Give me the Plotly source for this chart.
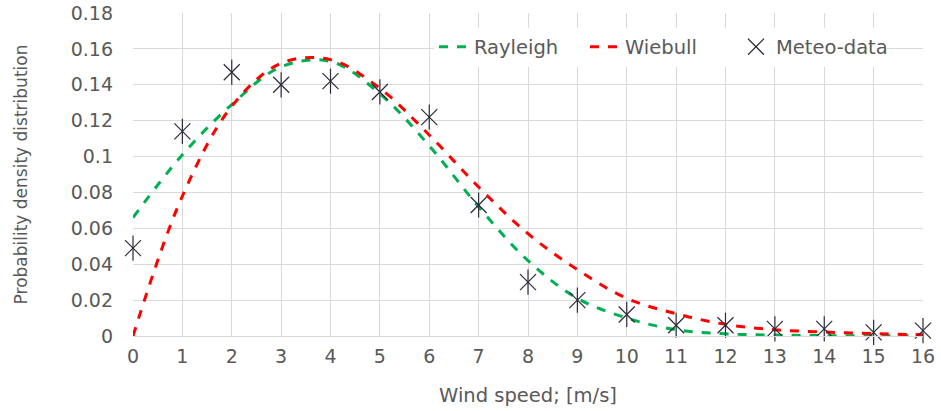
import plotly.graph_objects as go

wind_speed = list(range(17))
rayleigh = [0.066, 0.101, 0.129, 0.150, 0.153, 0.135, 0.106, 0.072, 0.042, 0.021, 0.010,
            0.0035, 0.0012, 0.0005, 0.0002, 0.0001, 0.0001]
wiebull = [0.0, 0.078, 0.128, 0.152, 0.154, 0.138, 0.112, 0.083, 0.057, 0.037, 0.021,
           0.0124, 0.0065, 0.0035, 0.0022, 0.0013, 0.0007]
meteo = [0.049, 0.114, 0.147, 0.140, 0.142, 0.136, 0.122, 0.073, 0.030, 0.020, 0.012,
         0.006, 0.006, 0.004, 0.004, 0.002, 0.003]

y_ticks = [0, 0.02, 0.04, 0.06, 0.08, 0.1, 0.12, 0.14, 0.16, 0.18]
y_tick_labels = ["0", "0.02", "0.04", "0.06", "0.08", "0.1", "0.12", "0.14", "0.16", "0.18"]

font_family = "DejaVu Sans, sans-serif"
text_color = "#595959"
marker_color = "#2b2b3b"

fig = go.Figure()
fig.add_trace(go.Scatter(x=wind_speed, y=rayleigh, mode="lines", name="Rayleigh",
                         line=dict(color="#00b050", width=3, dash="dash", shape="spline")))
fig.add_trace(go.Scatter(x=wind_speed, y=wiebull, mode="lines", name="Wiebull",
                         line=dict(color="#ff0000", width=3, dash="dash", shape="spline")))
fig.add_trace(go.Scatter(x=wind_speed, y=meteo, mode="markers", name="Meteo-data",
                         marker=dict(symbol="x-thin-open", size=16, color=marker_color,
                                     line=dict(color=marker_color, width=1.2)),
                         cliponaxis=False))
fig.add_trace(go.Scatter(x=wind_speed, y=meteo, mode="markers", name="Meteo-data",
                         showlegend=False,
                         marker=dict(symbol="line-ns-open", size=18, color=marker_color,
                                     line=dict(color=marker_color, width=1.2)),
                         cliponaxis=False))

fig.update_layout(
    width=941, height=411,
    margin=dict(l=133, r=18, t=13, b=75, autoexpand=False),
    paper_bgcolor="white", plot_bgcolor="white",
    font=dict(family=font_family, color=text_color, size=19),
    legend=dict(orientation="h", x=0.381, y=0.955, xanchor="left", yanchor="top",
                bgcolor="white", font=dict(size=19.5, color=text_color),
                entrywidth=106, tracegroupgap=0),
    xaxis=dict(range=[0, 16], dtick=1, showgrid=True, gridcolor="#d9d9d9", gridwidth=1,
               zeroline=False, showline=True, linecolor="#d9d9d9", automargin=False,
               tickfont=dict(size=19, color=text_color), ticks="",
               ticklabeloverflow="allow", ticklabelstandoff=3,
               title=dict(text="Wind speed; [m/s]", font=dict(size=19.5, color=text_color),
                          standoff=22)),
    yaxis=dict(range=[0, 0.18], tickvals=y_ticks, ticktext=y_tick_labels,
               showgrid=True, gridcolor="#d9d9d9", gridwidth=1, automargin=False,
               zeroline=False, showline=False,
               tickfont=dict(size=19, color=text_color), ticks="",
               ticklabeloverflow="allow", ticklabelstandoff=19,
               title=dict(text="Probability density distribution",
                          font=dict(size=17, color=text_color), standoff=38)),
)

fig.write_html("out.html", config={"displayModeBar": False},
               post_script="document.body.style.margin='0';")
